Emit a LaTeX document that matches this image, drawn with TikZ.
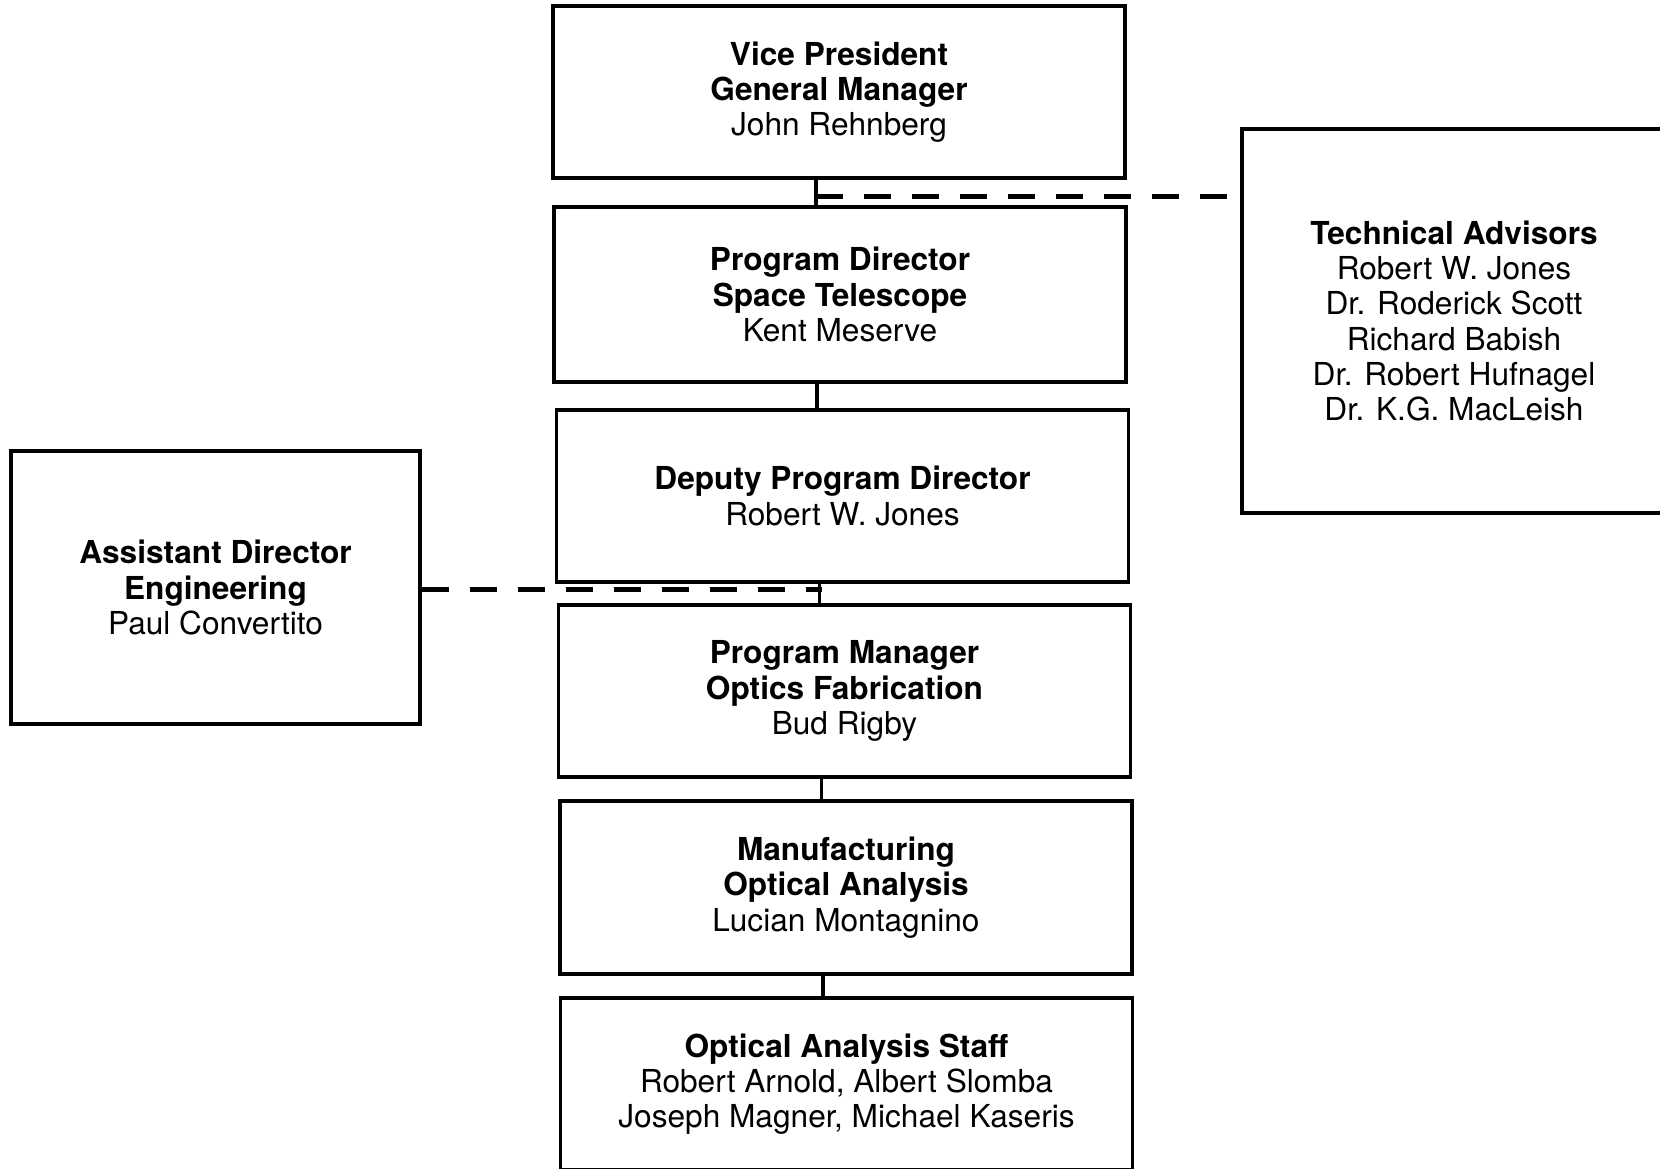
\documentclass[tikz,border=0pt]{standalone}
\usepackage{fontspec}
\setmainfont{TeX Gyre Heros}
\usetikzlibrary{positioning}

\begin{document}
\begin{tikzpicture}[font=\fontsize{9}{10}\selectfont]
    \tikzstyle{post}=[rectangle, draw, line width=0.9pt, align=center, inner sep=0pt, minimum width=5.72cm, minimum height=1.72cm]
    \tikzstyle{side post}=[post, minimum width=4.09cm, minimum height=2.73cm]
    \tikzstyle{advisor post}=[post, minimum width=4.24cm, minimum height=3.84cm]
    \tikzstyle{line link}=[line width=1pt]
    \tikzstyle{staff link}=[line width=1.4pt, dash pattern=on 0.27cm off 0.21cm]

    \useasboundingbox (0,0) rectangle (16.6,-11.68);

% Boxes
    % Line of command
    \node[post] (vp) at (8.39,-0.92) {\textbf{Vice President}\\\textbf{General Manager}\\John Rehnberg};
    \node[post, minimum height=1.75cm] (pd) at (8.40,-2.945) {\textbf{Program Director}\\\textbf{Space Telescope}\\Kent Meserve};
    \node[post] (dep) at (8.425,-4.96) {\textbf{Deputy Program Director}\\Robert W. Jones};
    \node[post] (pm) at (8.445,-6.91) {\textbf{Program Manager}\\\textbf{Optics Fabrication}\\Bud Rigby};
    \node[post, minimum height=1.73cm] (mfg) at (8.46,-8.875) {\textbf{Manufacturing}\\\textbf{Optical Analysis}\\Lucian Montagnino};
    \node[post] (staff) at (8.465,-10.84) {\textbf{Optical Analysis Staff}\\Robert Arnold, Albert Slomba\\Joseph Magner, Michael Kaseris};

    % Staff positions
    \node[advisor post] (advisors) at (14.54,-3.21) {\textbf{Technical Advisors}\\Robert W. Jones\\Dr. Roderick Scott\\Richard Babish\\Dr. Robert Hufnagel\\Dr. K.G. MacLeish};
    \node[side post] (assist) at (2.155,-5.875) {\textbf{Assistant Director}\\\textbf{Engineering}\\Paul Convertito};

% Links
    % Solid line down the chain
    \foreach \upper/\lower in {vp/pd, dep/pm, pd/dep, pm/mfg, mfg/staff}
        \draw[line link] ([xshift=-0.23cm]\upper.south) -- ([xshift=-0.23cm]\upper.south |- \lower.north);

    % Dashed staff links
    \coordinate (vp tap) at ([xshift=-0.23cm,yshift=-0.17cm]vp.south);
    \coordinate (pm tap) at ([xshift=-0.23cm,yshift=0.14cm]pm.north);
    \draw[staff link] (vp tap) -- (vp tap -| advisors.west);
    \draw[staff link] (pm tap -| assist.east) -- (pm tap);

\end{tikzpicture}
\end{document}
